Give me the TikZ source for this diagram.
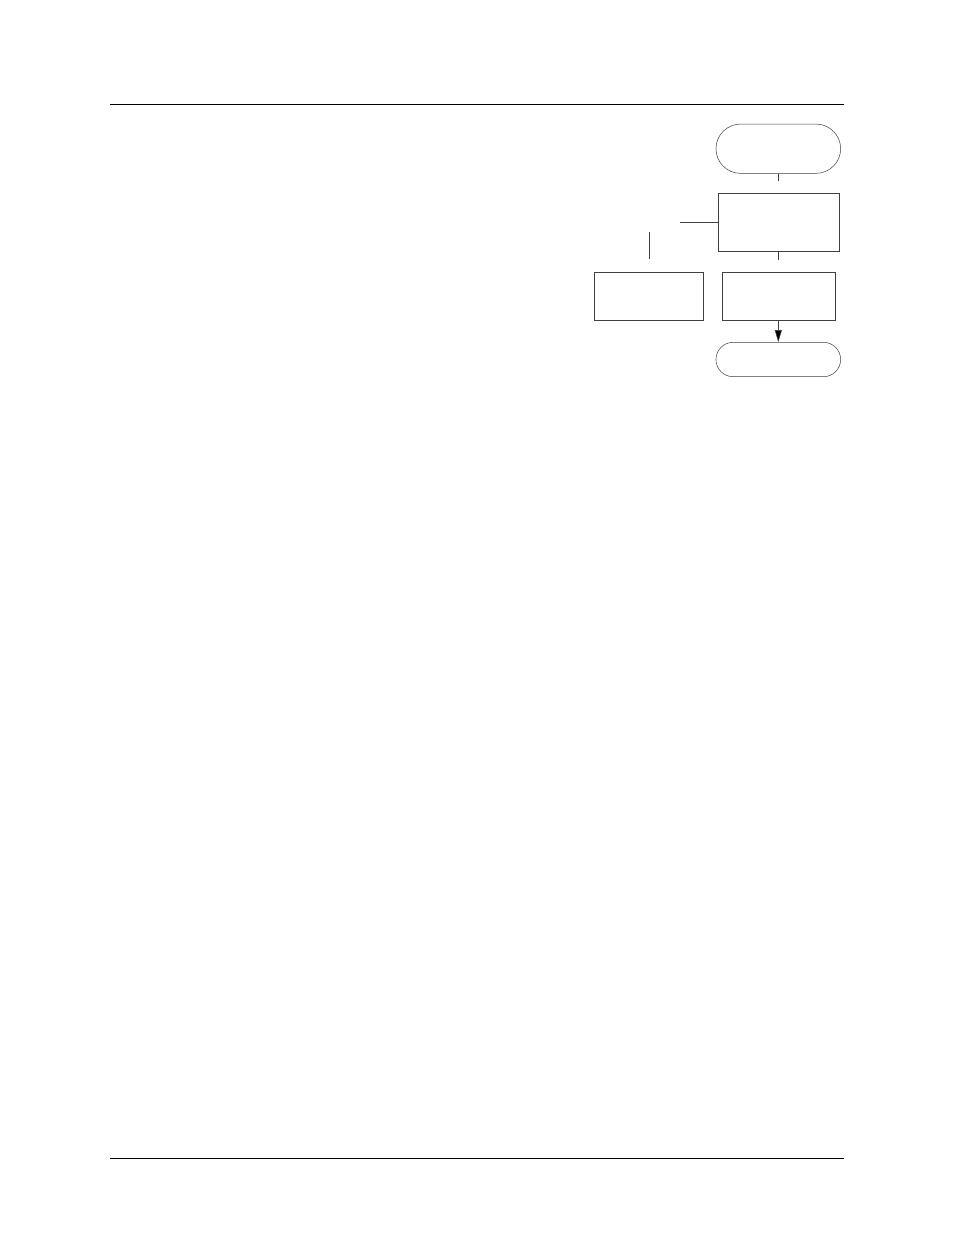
\documentclass[tikz,border=0pt]{standalone}
\usetikzlibrary{shapes.misc,arrows.meta}
\begin{document}
\begin{tikzpicture}[x=1pt,y=-1pt,
  rule/.style={line width=1pt,black},
  thin/.style={line width=0.5pt,black!75},
  term/.style={thin,draw,rounded rectangle,minimum width=124.7pt,inner sep=0pt},
  procbox/.style={thin,draw,rectangle,inner sep=0pt},
  conn/.style={thin},
  arr/.style={thin,-{Triangle[length=12pt,width=7pt,fill=black]}}]
\useasboundingbox (0,0) rectangle (954,1235);
\fill[white] (0,0) rectangle (954,1235);
\coordinate (h1) at (110,104.3); \coordinate (h2) at (844,104.3);
\coordinate (f1) at (110,1158.3); \coordinate (f2) at (844,1158.3);
\draw[rule] (h1) -- (h2);
\draw[rule] (f1) -- (f2);
\node[term,minimum height=49.3pt] (start) at (778.3,148.7) {};
\node[procbox,minimum width=120.7pt,minimum height=58.4pt] (p1) at (778.7,222.5) {};
\node[procbox,minimum width=109.4pt,minimum height=48.4pt] (pl) at (649,296.5) {};
\node[procbox,minimum width=113.4pt,minimum height=48.4pt] (pr) at (779,296.5) {};
\node[term,minimum height=34.4pt] (stop) at (778.3,359.5) {};
\coordinate (c1) at (778.7,181);
\coordinate (c2) at (778.7,260);
\coordinate (c3) at (680,222.7);
\coordinate (c4) at (649,231.7);
\coordinate (c5) at (649,259.3);
\draw[conn] (start.south -| c1) -- (c1);
\draw[conn] (p1.south -| c2) -- (c2);
\draw[conn] (c3) -- (p1.west |- c3);
\draw[conn] (c4) -- (c5);
\draw[arr] (pr.south -| stop.north) -- (stop.north);
\end{tikzpicture}
\end{document}
